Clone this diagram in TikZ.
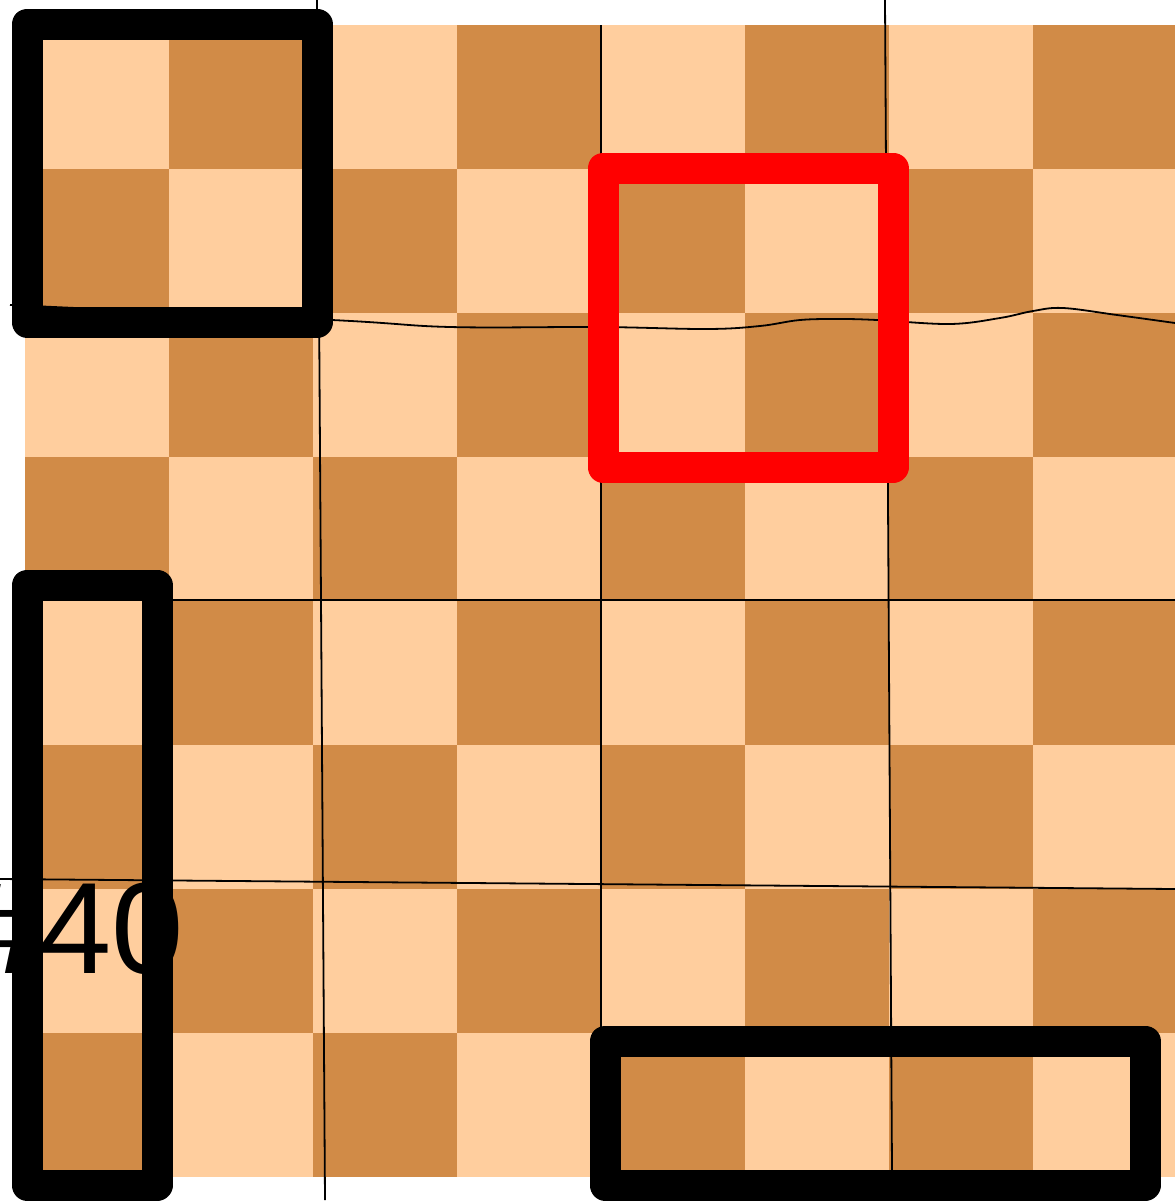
\documentclass[tikz,border=0pt]{standalone}
\usepackage{fontspec}
\newfontfamily\labelfont{Liberation Sans}
\definecolor{lightsq}{HTML}{FFCE9E}
\definecolor{darksq}{HTML}{D18B47}
\tikzset{
  markbox/.style={line width=31pt,line join=round},
  guide/.style={line width=1.8pt}
}

\begin{document}
\begin{tikzpicture}[x=1pt,y=-1pt]
\useasboundingbox (0,0) rectangle (1175,1202);
\clip (0,0) rectangle (1175,1202);
% board
\fill[lightsq] (25,25) rectangle ++(1152,1152);
\foreach \i in {0,...,7}{
  \foreach \j in {0,...,7}{
    \pgfmathtruncatemacro\k{\i+\j}
    \ifodd\k
      \fill[darksq] (25+144*\j,25+144*\i) rectangle ++(144,144);
    \fi
  }
}
% guide lines
\draw[guide] (317,0) -- (325,1200);
\draw[guide] (601,25) -- (601,1041);
\draw[guide] (885,0) -- (892,1170);
\draw[guide] plot[smooth,tension=.6] coordinates {(10,305) (332,320) (450,327)
  (600,327) (707,329) (760,326) (800,320) (840,319) (877,320) (950,324)
  (1000,318) (1033,311) (1063,308) (1117,315) (1175,323)};
\draw[guide] (25,600) -- (1175,600);
\draw[guide] (0,879) -- (1175,889);
% marked regions
\draw[markbox] (27,24) rectangle (317,322);
\draw[markbox,red] (603,168) rectangle (893,467);
\draw[markbox] (27,585) rectangle (157,1185);
\draw[markbox] (605,1041) rectangle (1145,1185);
\node[anchor=base west,inner sep=0pt,font=\labelfont\fontsize{130}{130}\selectfont] (movenum) at (-33,973) {\#40};
\end{tikzpicture}
\end{document}
